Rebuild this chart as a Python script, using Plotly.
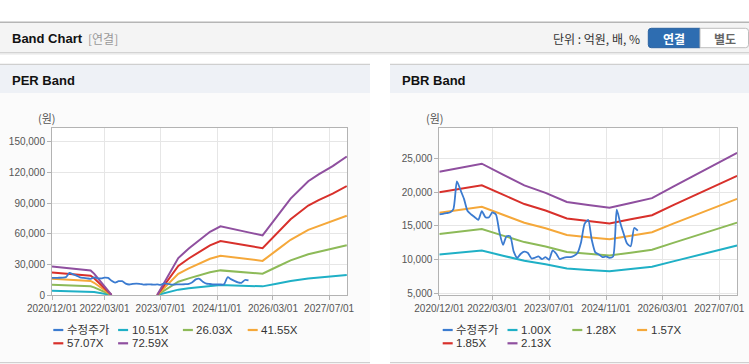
import plotly.graph_objects as go
import pandas as pd

W, H = 749, 364

# ---------------- data ----------------
price_name = "수정주가"
price_values = [16700, 16800, 16900, 17000, 17500, 21600, 20300, 19000, 17200, 16700,
                16300, 15900, 17200, 16300, 16300, 17000, 16700, 14100, 12200, 13500,
                13500, 11200, 10300, 10900, 11200, 11000, 10200, 10300, 10500, 10100,
                10400, 10000, 11400, 10900, 10100, 10300, 10400, 10400, 10600, 11000,
                12600, 15300, 15900, 13000, 11100, 10800, 10400, 10500, 10300, 10500,
                17400, 15600, 13900, 12400, 12000, 14700, 14300]
price_dates = pd.date_range("2020-12-01", periods=len(price_values), freq="MS")

per_dates = ["2020-12-01", "2021-05-01", "2021-11-01", "2021-12-01", "2022-05-01",
             "2022-12-01", "2023-06-01", "2023-12-01", "2024-03-01", "2024-06-01",
             "2024-09-01", "2024-12-01", "2025-04-01", "2025-08-01", "2025-12-01",
             "2026-04-01", "2026-08-01", "2027-01-01", "2027-04-01", "2027-08-01",
             "2027-12-01"]
per_names = ["10.51X", "26.03X", "41.55X", "57.07X", "72.59X"]
per_1051 = [4050, 3840, 3490, 3040, 0, None, 0, 5240, 6590, 7820, 8980, 9750, 9270,
            8890, 8460, 11080, 13680, 16150, 17130, 18290, 19660]
per_2603 = [10040, 9500, 8640, 7530, 0, None, 0, 12980, 16320, 19360, 22230, 24130,
            22950, 22020, 20940, 27430, 33890, 39980, 42420, 45290, 48700]
per_4155 = [16030, 15170, 13800, 12020, 0, None, 0, 20720, 26040, 30910, 35490, 38520,
            36630, 35150, 33430, 43790, 54090, 63820, 67710, 72290, 77730]
per_5707 = [22010, 20830, 18950, 16510, 0, None, 0, 28460, 35770, 42450, 48740, 52910,
            50320, 48270, 45910, 60140, 74300, 87660, 93010, 99300, 106770]
per_7259 = [28000, 26500, 24100, 21000, 0, None, 0, 36200, 45500, 54000, 62000, 67300,
            64000, 61400, 58400, 76500, 94500, 111500, 118300, 126300, 135800]

pbr_dates = ["2020-12-01", "2021-06-01", "2021-12-01", "2022-06-01", "2022-12-01",
             "2023-06-01", "2023-12-01", "2024-06-01", "2024-12-01", "2025-06-01",
             "2025-12-01", "2026-06-01", "2026-12-01", "2027-06-01", "2027-12-01"]
pbr_names = ["1.00X", "1.28X", "1.57X", "1.85X", "2.13X"]
pbr_100 = [10800, 11080, 11360, 10610, 9860, 9340, 8710, 8500, 8310, 8640, 8970,
           9770, 10560, 11310, 12110]
pbr_128 = [13820, 14180, 14540, 13580, 12620, 11960, 11150, 10880, 10640, 11060,
           11480, 12510, 13520, 14480, 15500]
pbr_157 = [16960, 17400, 17840, 16660, 15480, 14660, 13670, 13350, 13050, 13560,
           14080, 15340, 16580, 17760, 19010]
pbr_185 = [19980, 20500, 21020, 19630, 18240, 17280, 16110, 15730, 15370, 15980,
           16590, 18070, 19540, 20920, 22400]
pbr_213 = [23000, 23600, 24200, 22600, 21000, 19890, 18550, 18110, 17700, 18400,
           19110, 20810, 22490, 24090, 25790]

x_tick_vals = ["2020-12-01", "2022-03-01", "2023-07-01", "2024-11-01", "2026-03-01", "2027-07-01"]
x_tick_text = ["2020/12/01", "2022/03/01", "2023/07/01", "2024/11/01", "2026/03/01", "2027/07/01"]
per_y_ticks = [0, 30000, 60000, 90000, 120000, 150000]
pbr_y_ticks = [5000, 10000, 15000, 20000, 25000]

price_color = "#3b7bd0"
band_colors = ["#1fb0c6", "#8dba58", "#f5a83a", "#d8302b", "#8f4f9f"]

FONT = "Arial, Liberation Sans, Noto Sans CJK KR, sans-serif"
KFONT = "Noto Sans CJK KR, Arial, sans-serif"


def px(x):
    return x / W


def py(y):
    return 1 - y / H


fig = go.Figure()

per_bands = [per_1051, per_2603, per_4155, per_5707, per_7259]
pbr_bands = [pbr_100, pbr_128, pbr_157, pbr_185, pbr_213]

for name, vals, col in zip(per_names, per_bands, band_colors):
    fig.add_trace(go.Scatter(x=per_dates, y=vals, name=name, mode="lines",
                             line=dict(color=col, width=2), connectgaps=False,
                             showlegend=False, xaxis="x", yaxis="y"))
fig.add_trace(go.Scatter(x=price_dates, y=price_values, name=price_name, mode="lines",
                         line=dict(color=price_color, width=1.8, shape="spline", smoothing=0.6),
                         showlegend=False, xaxis="x", yaxis="y"))

for name, vals, col in zip(pbr_names, pbr_bands, band_colors):
    fig.add_trace(go.Scatter(x=pbr_dates, y=vals, name=name, mode="lines",
                             line=dict(color=col, width=2),
                             showlegend=False, xaxis="x2", yaxis="y2"))
fig.add_trace(go.Scatter(x=price_dates, y=price_values, name=price_name, mode="lines",
                         line=dict(color=price_color, width=1.8, shape="spline", smoothing=0.6),
                         showlegend=False, xaxis="x2", yaxis="y2"))

# ---------------- axes ----------------
ydom = [py(295), py(128)]
common_x = dict(type="date", range=["2020-12-01", "2027-12-03"],
                tickvals=x_tick_vals, ticktext=x_tick_text, tickangle=0, automargin=False,
                showgrid=True, gridcolor="#e6e6e6", gridwidth=1,
                showline=True, linecolor="#b3b3b3", linewidth=1, mirror=True,
                ticks="outside", ticklen=4, tickcolor="#b3b3b3",
                tickfont=dict(family=FONT, size=10, color="#555"), zeroline=False)
common_y = dict(showgrid=True, gridcolor="#e6e6e6", gridwidth=1, automargin=False,
                showline=True, linecolor="#b3b3b3", linewidth=1, mirror=True,
                ticks="outside", ticklen=4, tickcolor="#b3b3b3", tickformat=",",
                tickfont=dict(family=FONT, size=10, color="#555"), zeroline=False)

fig.update_layout(
    xaxis=dict(domain=[px(52), px(347)], anchor="y", **common_x),
    yaxis=dict(domain=ydom, anchor="x", range=[0, 163700], tickvals=per_y_ticks, **common_y),
    xaxis2=dict(domain=[px(439.3), px(737.3)], anchor="y2", **common_x),
    yaxis2=dict(domain=ydom, anchor="x2", range=[4800, 29480], tickvals=pbr_y_ticks, **common_y),
)

# ---------------- decorations ----------------
shapes = []
annotations = []


def rect(x0, y0, x1, y1, fill, line_color=None, lw=0):
    shapes.append(dict(type="rect", xref="paper", yref="paper",
                       x0=px(x0), x1=px(x1), y0=py(y1), y1=py(y0),
                       fillcolor=fill, layer="below",
                       line=dict(color=line_color or fill, width=lw)))


def hline(x0, x1, y, color, lw=1):
    shapes.append(dict(type="line", xref="paper", yref="paper",
                       x0=px(x0), x1=px(x1), y0=py(y), y1=py(y),
                       layer="below", line=dict(color=color, width=lw)))


def rpath(x0, y0, x1, y1, r, left, right, fill, line_color):
    rx, ry = r / W, r / H
    X0, X1, Y0, Y1 = px(x0), px(x1), py(y0), py(y1)  # Y0 top (larger)
    p = []
    if left:
        p.append(f"M{X0 + rx},{Y0}")
    else:
        p.append(f"M{X0},{Y0}")
    if right:
        p.append(f"L{X1 - rx},{Y0} Q{X1},{Y0} {X1},{Y0 - ry} L{X1},{Y1 + ry} Q{X1},{Y1} {X1 - rx},{Y1}")
    else:
        p.append(f"L{X1},{Y0} L{X1},{Y1}")
    if left:
        p.append(f"L{X0 + rx},{Y1} Q{X0},{Y1} {X0},{Y1 + ry} L{X0},{Y0 - ry} Q{X0},{Y0} {X0 + rx},{Y0} Z")
    else:
        p.append(f"L{X0},{Y1} Z")
    shapes.append(dict(type="path", xref="paper", yref="paper", path=" ".join(p),
                       fillcolor=fill, line=dict(color=line_color, width=1), layer="below"))


def text(x, y, s, size=12, color="#333", anchor="left", family=FONT):
    annotations.append(dict(x=px(x), y=py(y), xref="paper", yref="paper", text=s,
                            showarrow=False, xanchor=anchor, yanchor="middle",
                            font=dict(family=family, size=size, color=color)))


# header bar
rect(0, 22.5, W, 52.5, "#f4f4f4")
hline(0, W, 22.3, "#b5b5b5", 1.5)
hline(0, W, 52.8, "#c4c4c4", 1)
hline(0, W, 54.0, "#e6e6e6", 1)
text(10, 38.3, "<b>Band Chart</b>", 13, "#111")
text(86, 38.3, "[연결]", 12, "#999", family=KFONT)
text(642, 39, "단위 : 억원, 배, %", 12, "#333", anchor="right", family=KFONT)
rpath(648.3, 28.3, 700, 47.7, 3, True, False, "#2e6db1", "#2a62a0")
rpath(700, 28.3, 748.5, 47.7, 3, False, True, "#ffffff", "#bdbdbd")
text(674, 38.3, "<b>연결</b>", 12, "#ffffff", anchor="center", family=KFONT)
text(724.5, 38.3, "<b>별도</b>", 12, "#666", anchor="center", family=KFONT)

# panels
for (x0, x1, title, plot_x0, plot_x1) in [(0, 370, "PER Band", 52, 347),
                                           (390, W, "PBR Band", 439.3, 737.3)]:
    rect(x0, 64.5, x1, 93, "#eef1f6")
    rect(x0, 93, x1, 362, "#fbfbfb")
    hline(x0, x1, 64.3, "#cfcfcf", 1.2)
    hline(x0, x1, 362.7, "#d0d0d0", 1.2)
    rect(plot_x0, 128, plot_x1, 295, "#ffffff")
    text(x0 + 10, 80, f"<b>{title}</b>", 13, "#111")

text(47, 118, "(원)", 11, "#555", anchor="center", family=KFONT)
text(435, 118, "(원)", 11, "#555", anchor="center", family=KFONT)

# legends
for names, base_x in [([price_name] + per_names, 53.3), ([price_name] + pbr_names, 442.7)]:
    cols = [price_color] + band_colors
    for i, (nm, col) in enumerate(zip(names, cols)):
        r, c = divmod(i, 4)
        lx = base_x + c * 64.8
        ly = 330 + r * 13.3
        shapes.append(dict(type="line", xref="paper", yref="paper",
                           x0=px(lx), x1=px(lx + 10), y0=py(ly), y1=py(ly),
                           line=dict(color=col, width=2.2)))
        text(lx + 11.5, ly, nm, 11.5, "#333", family=FONT)

fig.update_layout(
    width=W, height=H, margin=dict(l=0, r=0, t=0, b=0, autoexpand=False),
    paper_bgcolor="#ffffff", plot_bgcolor="rgba(0,0,0,0)",
    shapes=shapes, annotations=annotations, showlegend=False,
    font=dict(family=FONT),
)

fig.write_html("out.html", config={"displayModeBar": False})

# remove default page margin so the figure sits at the window origin
with open("out.html", "r", encoding="utf-8") as f:
    html = f.read()
html = html.replace("<head>", "<head><style>html,body{margin:0;padding:0;overflow:hidden;}</style>", 1)
with open("out.html", "w", encoding="utf-8") as f:
    f.write(html)
